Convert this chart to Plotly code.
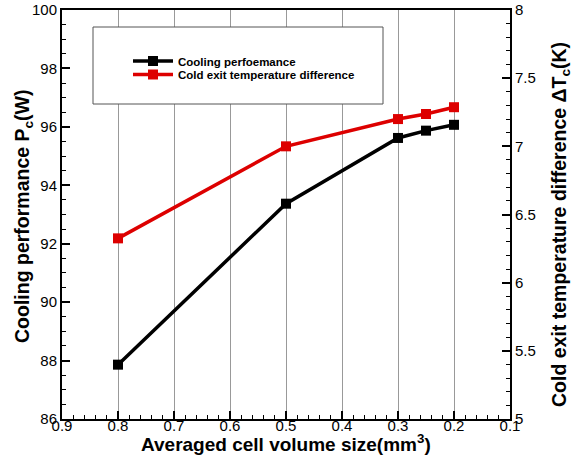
import plotly.graph_objects as go

cell_size = [0.8, 0.5, 0.3, 0.25, 0.2]
cooling_perf = [87.86, 93.37, 95.62, 95.87, 96.07]
cold_exit_dt = [6.325, 7.0, 7.2, 7.237, 7.287]

FONT = "Liberation Sans, Arial, sans-serif"
LEG_FONT = dict(size=11.5, weight="bold", family=FONT)

# plot-area pixel geometry helpers (for paper-coordinate placement)
L, R, T, B = 62, 510, 10, 419
def px(xp):
    return (xp - L) / (R - L)
def py(yp):
    return (B - yp) / (B - T)

fig = go.Figure()
fig.add_trace(go.Scatter(
    x=cell_size, y=cooling_perf, name="Cooling perfoemance",
    mode="lines+markers", line=dict(color="black", width=3.5),
    marker=dict(symbol="square", size=10, color="black"), yaxis="y",
    legend="legend"))
fig.add_trace(go.Scatter(
    x=cell_size, y=cold_exit_dt, name="Cold exit temperature difference",
    mode="lines+markers", line=dict(color="#dd0000", width=3.5),
    marker=dict(symbol="square", size=10, color="#dd0000"), yaxis="y2",
    legend="legend2"))

leg_x = px(128)
fig.update_layout(
    width=575, height=460,
    margin=dict(l=L, r=575 - R, t=T, b=460 - B),
    plot_bgcolor="white", paper_bgcolor="white",
    font=dict(family=FONT, color="black", size=15),
    showlegend=True,
    legend=dict(x=leg_x, y=py(61), xanchor="left", yanchor="middle",
                bgcolor="rgba(0,0,0,0)", borderwidth=0, font=LEG_FONT,
                itemwidth=40),
    legend2=dict(x=leg_x, y=py(74.5), xanchor="left", yanchor="middle",
                 bgcolor="rgba(0,0,0,0)", borderwidth=0, font=LEG_FONT,
                 itemwidth=40),
    xaxis=dict(range=[0.9, 0.1], dtick=0.1, tick0=0.1, tickformat=".1f",
               automargin=False, ticklabelstandoff=-8,
               showline=True, linecolor="black", linewidth=2, mirror=True,
               ticks="inside", ticklen=8, tickwidth=2, tickcolor="black",
               showgrid=True, gridcolor="#999999", gridwidth=1,
               zeroline=False,
               minor=dict(ticks="inside", dtick=0.02, ticklen=4, tickwidth=1,
                          tickcolor="black", showgrid=False),
               tickfont=dict(size=15)),
    yaxis=dict(range=[86, 100], dtick=2, automargin=False,
               showline=True, linecolor="black", linewidth=2,
               ticks="inside", ticklen=8, tickwidth=2, tickcolor="black",
               showgrid=False, zeroline=False,
               minor=dict(ticks="inside", dtick=0.5, ticklen=4, tickwidth=1,
                          tickcolor="black"),
               tickfont=dict(size=15)),
    yaxis2=dict(range=[5, 8], dtick=0.5, overlaying="y", side="right",
                automargin=False,
                showline=True, linecolor="black", linewidth=2,
                ticks="inside", ticklen=8, tickwidth=2, tickcolor="black",
                showgrid=False, zeroline=False,
                minor=dict(ticks="inside", dtick=0.1, ticklen=4, tickwidth=1,
                           tickcolor="black"),
                tickfont=dict(size=15)),
    shapes=[dict(type="rect", xref="paper", yref="paper",
                 x0=px(93), x1=px(383), y0=py(104), y1=py(27),
                 line=dict(color="#555555", width=1), fillcolor="white",
                 layer="above")],
    annotations=[
        dict(text="Averaged cell volume size(mm<sup>3</sup>)",
             xref="paper", yref="paper", x=px(286), y=py(443),
             xanchor="center", yanchor="middle", showarrow=False,
             font=dict(size=19, weight="bold")),
        dict(text="Cooling performance P<sub>c</sub>(W)",
             xref="paper", yref="paper", x=px(23), y=py(216),
             xanchor="center", yanchor="middle", showarrow=False,
             textangle=-90, font=dict(size=19.5, weight="bold")),
        dict(text="Cold exit temperature difference \u0394T<sub>c</sub>(K)",
             xref="paper", yref="paper", x=px(561), y=py(225),
             xanchor="center", yanchor="middle", showarrow=False,
             textangle=-90, font=dict(size=19.5, weight="bold")),
    ],
)

fig.write_html("out.html")
